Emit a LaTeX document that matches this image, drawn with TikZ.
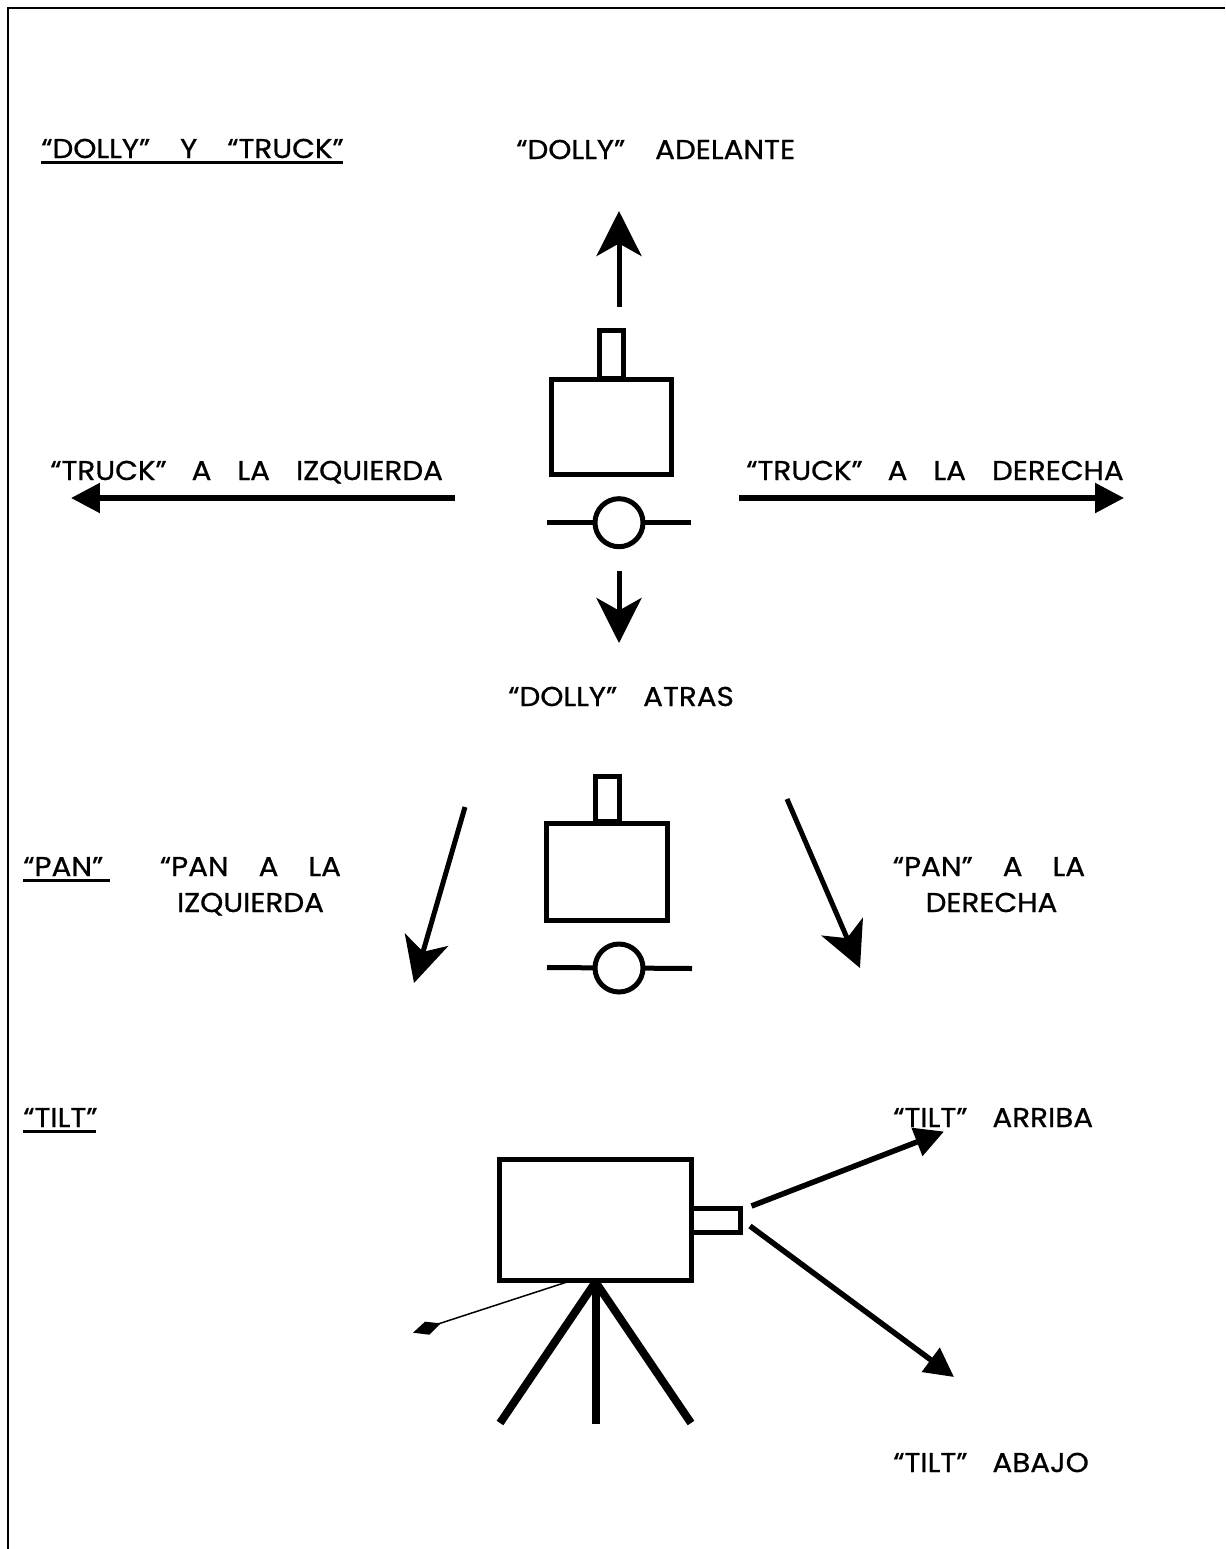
\documentclass[tikz,border=0pt]{standalone}
\usepackage{fontspec}
\setmainfont{Poppins}[FakeBold=0.8,FakeStretch=1.08]
\usetikzlibrary{arrows.meta}
\newcommand{\gp}{\hspace{0.52cm}}
\newcommand{\gq}{\hspace{0.5cm}}
\newcommand{\gd}{\hspace{0.6cm}}
\tikzset{
  lbl/.style={anchor=base west,inner sep=0pt,font=\fontsize{15.5}{18}\selectfont},
  lblc/.style={anchor=base,inner sep=0pt,font=\fontsize{15.5}{18}\selectfont},
  big/.style={line width=0.1cm,-{Stealth[length=0.9cm,width=0.9cm,inset=0.25cm]}},
  flat/.style={line width=0.11cm,-{Stealth[length=0.58cm,width=0.58cm,inset=0cm]}},
  part/.style={line width=0.1cm,fill=white},
}
\begin{document}
\begin{tikzpicture}[x=0.02cm,y=-0.02cm]
        \useasboundingbox(0,0)rectangle(1225,1549);
        \draw[line width=0.055cm](8,1549)--(8,8)--(1225,8);
        % dolly and truck
        \node[lbl](dollytruck)at(41,158){“DOLLY”\gd Y\gd “TRUCK”};
        \draw[line width=0.06cm](41,162.5)--(343,162.5);
        \node[lbl](adelante)at(516,159){“DOLLY”\gd ADELANTE};
        \node[lbl](truckizq)at(50,480){“TRUCK”\gq A\gp LA\gp IZQUIERDA};
        \node[lbl](truckder)at(746,480){“TRUCK”\gq A\gp LA\gp DERECHA};
        \node[lbl](atras)at(508,706){“DOLLY”\gp ATRAS};
        \draw[big](619,307)--(619,211);
        \draw[big](619,571)--(619,643);
        \draw[flat](455,498)--(71,498);
        \draw[flat](739,498)--(1124,498);
        \draw[part](599.5,378)rectangle(623.5,330.5);
        \draw[part](551,379)rectangle(671,474.5);
        \draw[line width=0.1cm](547,522.7)--(691,522.7);
        \draw[part](619,522.7)circle (24);
        % pan
        \node[lbl](pan)at(23,876){“PAN”};
        \draw[line width=0.06cm](23,880.5)--(110,880.5);
        \node[lblc](panizq)at(250.5,876){“PAN\gd A\gd LA};
        \node[lblc](panizqb)at(250.5,912){IZQUIERDA};
        \node[lblc](pander)at(989,876){“PAN”\gd A\gd LA};
        \node[lblc](panderb)at(991.5,912){DERECHA};
        \draw[big](465,807)--(414,983);
        \draw[big](787,799)--(860,968);
        \draw[part](595.5,821)rectangle(619.5,776.5);
        \draw[part](546.5,823.5)rectangle(667.5,920);
        \draw[line width=0.1cm](547,967.5)--(692,968.5);
        \draw[part](619,968)circle (24);
        % tilt
        \node[lbl](tilt)at(23,1127){“TILT”};
        \draw[line width=0.06cm](23,1131.5)--(96,1131.5);
        \node[lbl](arriba)at(893,1127){“TILT”\gq ARRIBA};
        \node[lbl](abajo)at(893,1472){“TILT”\gq ABAJO};
        \draw[flat](751.5,1206)--(944,1131.5);
        \draw[flat](750,1226)--(954,1377);
        \draw[line width=0.16cm](500,1423)--(595.5,1282)--(691,1423);
        \draw[line width=0.16cm](595.5,1282)--(595.5,1424);
        \draw[line width=0.03cm](567,1282)--(438,1324);
        \fill(413,1332.7)--(425,1321.7)--(440.7,1323.3)--(429.3,1334.7)--cycle;
        \draw[part](499,1159.5)rectangle(691.5,1280.5);
        \draw[part](691.5,1208)rectangle(740.5,1232.5);
    \end{tikzpicture}
\end{document}
